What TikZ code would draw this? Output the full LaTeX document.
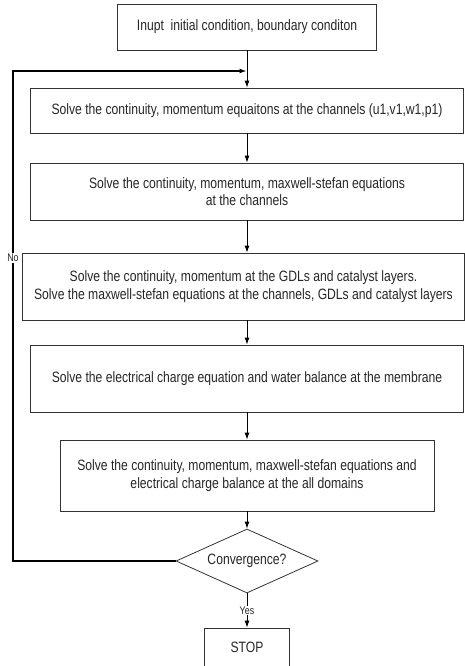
\documentclass[tikz,border=0pt]{standalone}
\usepackage{fontspec}
\setmainfont{Liberation Sans}[FakeStretch=0.81]
\usetikzlibrary{shapes.geometric,arrows.meta}

\tikzset{
	stepbox/.style = {rectangle, draw = black!80, line width = .8pt, inner sep = 0, align = center,
		text = black!85, font = \fontsize{15}{17.5}\selectfont},
	testbox/.style = {diamond, draw = black!80, line width = .8pt, inner sep = 0, aspect = 2.2,
		minimum width = 142, minimum height = 64, text = black!85, font = \fontsize{15}{17.5}\selectfont},
	flow/.style = {draw = black, line width = .9pt, -{Latex[length = 7pt, width = 5pt]}},
	small/.style = {fill = white, inner sep = 1pt, text = black!85, font = \fontsize{11}{13}\selectfont}
}

\begin{document}
\begin{tikzpicture}[x = 1pt, y = -1pt]
	\useasboundingbox (0, 0) rectangle (465, 666);

	\node [stepbox, minimum width = 259, minimum height = 46] (b1) at (247, 27) {Inupt~ initial condition, boundary conditon};
	\node [stepbox, minimum width = 433, minimum height = 45] (b2) at (247, 110.5)
		{Solve the continuity, momentum equaitons at the channels (u1,v1,w1,p1)};
	\node [stepbox, minimum width = 433, minimum height = 57] (b3) at (247, 191.5)
		{Solve the continuity, momentum, maxwell-stefan equations\\at the channels};
	\node [stepbox, minimum width = 442, minimum height = 67] (b4) at (243.5, 286.5)
		{Solve the continuity, momentum at the GDLs and catalyst layers.\\Solve the maxwell-stefan equations at the channels, GDLs and catalyst layers};
	\node [stepbox, minimum width = 433, minimum height = 67] (b5) at (247, 378.5)
		{Solve the electrical charge equation and water balance at the membrane};
	\node [stepbox, minimum width = 374, minimum height = 71] (b6) at (247, 475.5)
		{Solve the continuity, momentum, maxwell-stefan equations and\\electrical charge balance at the all domains};
	\node [testbox] (conv) at (247, 561) {Convergence?};
	\node [stepbox, minimum width = 85, minimum height = 38] (stop) at (247, 647) {STOP};

	\coordinate (turn) at (13, 71);
	\coordinate (merge) at (246.5, 71);

	\draw [flow] (b1) -- (b2);
	\draw [flow] (b2) -- (b3);
	\draw [flow] (b3) -- (b4.north -| b3.south);
	\draw [flow] (b4.south -| b5.north) -- (b5);
	\draw [flow] (b5) -- (b6);
	\draw [flow] (b6) -- (conv);
	\draw [flow] (conv) -- node [small] (yes) {Yes} (stop);

	\draw [flow, line width = 1.3pt] (conv.west) -| (turn) -- (merge);
	\node [small] (no) at (13, 258) {No};
\end{tikzpicture}
\end{document}
